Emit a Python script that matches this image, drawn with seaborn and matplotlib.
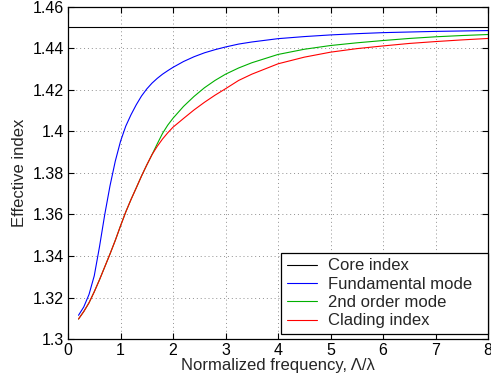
import numpy as np
import pandas as pd
import matplotlib
matplotlib.use("Agg")
import matplotlib.pyplot as plt
import seaborn as sns
from matplotlib.ticker import FormatStrFormatter

# ---- data ----
x_vals = [0.2, 0.3, 0.4, 0.5, 0.6, 0.7, 0.8, 0.9, 1.0, 1.1, 1.2, 1.3, 1.4, 1.5,
          1.6, 1.7, 1.8, 1.9, 2.0, 2.2, 2.4, 2.6, 2.8, 3.0, 3.25, 3.5, 4.0, 4.5,
          5.0, 5.5, 6.0, 6.5, 7.0, 7.5, 8.0]

fundamental = [1.3115, 1.3155, 1.3215, 1.3305, 1.3445, 1.3600, 1.3738, 1.3856,
               1.3952, 1.4025, 1.4080, 1.4128, 1.4170, 1.4204, 1.4232, 1.4255,
               1.4275, 1.4292, 1.4308, 1.4336, 1.4359, 1.4378, 1.4393, 1.4406,
               1.4420, 1.4430, 1.4446, 1.4456, 1.4464, 1.4470, 1.4475, 1.4478,
               1.4481, 1.4483, 1.4485]

second_order = [1.3097, 1.3133, 1.3175, 1.3228, 1.3286, 1.3348, 1.3410, 1.3475,
                1.3545, 1.3612, 1.3672, 1.3728, 1.3785, 1.3838, 1.3888, 1.3940,
                1.3990, 1.4030, 1.4063, 1.4120, 1.4168, 1.4210, 1.4245, 1.4275,
                1.4305, 1.4330, 1.4370, 1.4395, 1.4413, 1.4426, 1.4437, 1.4447,
                1.4455, 1.4461, 1.4466]

cladding = [1.3097, 1.3133, 1.3175, 1.3228, 1.3286, 1.3348, 1.3410, 1.3475,
            1.3545, 1.3612, 1.3672, 1.3728, 1.3785, 1.3838, 1.3888, 1.3928,
            1.3963, 1.3993, 1.4020, 1.4062, 1.4103, 1.4140, 1.4174, 1.4205,
            1.4245, 1.4275, 1.4325, 1.4357, 1.4381, 1.4398, 1.4411, 1.4423,
            1.4432, 1.4440, 1.4447]

core_x = [0.0, 8.0]
core_index = [1.45, 1.45]

series_names = ["Core index", "Fundamental mode", "2nd order mode", "Clading index"]
series_colors = ["#000000", "#0000ff", "#00b000", "#ff0000"]

x_ticks = [0, 1, 2, 3, 4, 5, 6, 7, 8]
y_ticks = [1.30, 1.32, 1.34, 1.36, 1.38, 1.40, 1.42, 1.44, 1.46]

# ---- build long-form table ----
frames = [pd.DataFrame({"x": core_x, "n": core_index, "series": series_names[0]})]
for name, vals in zip(series_names[1:], [fundamental, second_order, cladding]):
    frames.append(pd.DataFrame({"x": x_vals, "n": vals, "series": name}))
df = pd.concat(frames, ignore_index=True)

sns.set_style("ticks")
plt.rcParams["font.family"] = ["Liberation Sans", "DejaVu Sans"]
plt.rcParams["font.size"] = 12

fig = plt.figure(figsize=(4.91, 3.85), dpi=100)
ax = fig.add_axes([0.1385, 0.119, 0.8554, 0.8637])

sns.lineplot(data=df, x="x", y="n", hue="series", hue_order=series_names,
             palette=dict(zip(series_names, series_colors)), linewidth=0.8,
             sort=False, estimator=None, ax=ax)

ax.set_xlim(0, 8)
ax.set_ylim(1.30, 1.46)
ax.set_xticks(x_ticks)
ax.set_yticks(y_ticks)
ax.yaxis.set_major_formatter(FormatStrFormatter("%g"))
ax.grid(True, linestyle=(0, (1, 3)), color="#909090", linewidth=0.7)
ax.tick_params(direction="in", top=True, right=True, length=4, width=0.8,
               labelsize=11.5, colors="black", pad=3)
for s in ax.spines.values():
    s.set_visible(True)
    s.set_color("black")
    s.set_linewidth(0.9)

ax.set_xlabel("Normalized frequency, Λ/λ", fontsize=12, labelpad=0)
ax.set_ylabel("Effective index", fontsize=12, labelpad=4)

leg = ax.legend(loc="lower left", bbox_to_anchor=(0.5068, 0.015, 0.4932, 0.0),
                mode="expand", fontsize=12,
                frameon=True, fancybox=False, edgecolor="black", framealpha=1,
                borderaxespad=0, handlelength=1.8, handletextpad=0.65,
                labelspacing=0.2, borderpad=0.35)
leg.get_frame().set_linewidth(0.9)

fig.savefig("out.png", dpi=100)
